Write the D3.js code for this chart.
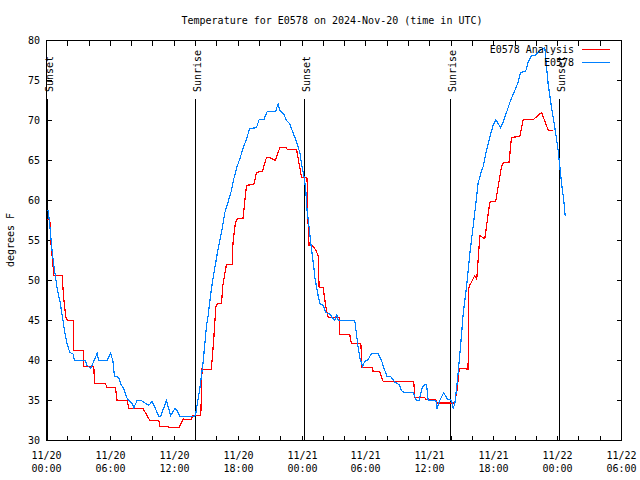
<!DOCTYPE html>
<html><head><meta charset="utf-8">
<script src="https://cdn.jsdelivr.net/npm/d3@7"></script>
<style>body{margin:0;background:#fff}svg{display:block}text{font-family:"DejaVu Sans Mono",monospace;font-size:10px;fill:#000}</style>
</head><body><svg id="c" width="640" height="480"></svg>
<script>
const title = "Temperature for E0578 on 2024-Nov-20 (time in UTC)";
const yLabel = "degrees F";
const seriesNames = ["E0578 Analysis", "E0578"];
const seriesColors = ["#ff0000", "#0080ff"];
const yTicks = [30, 35, 40, 45, 50, 55, 60, 65, 70, 75, 80];
// hours since 2024-11-20 00:00 UTC
const analysisHours = [0.06,0.31,0.38,0.69,1.47,1.62,1.81,2.0,2.50,2.56,3.44,3.50,4.44,4.51,5.54,5.69,6.48,6.63,7.57,7.73,9.07,9.70,10.55,10.64,11.42,11.58,12.45,12.83,13.15,13.62,13.71,14.49,14.61,14.77,15.48,15.71,15.90,16.04,16.43,16.56,16.90,17.43,17.52,17.75,17.99,18.46,18.78,19.47,19.72,20.29,20.66,21.07,21.49,21.91,22.54,22.60,23.48,23.95,24.47,24.51,24.66,25.01,25.29,25.51,25.60,25.98,26.23,26.45,27.48,27.55,28.48,28.64,29.52,29.64,30.62,30.67,31.30,31.61,34.49,34.59,35.53,35.59,36.56,36.63,38.34,38.58,38.72,38.81,39.28,39.59,39.66,39.75,40.22,40.41,40.70,41.16,41.63,42.19,42.73,42.95,43.44,43.67,44.45,44.76,45.70,46.49,47.11,47.52];
const analysisTemps = [57.6,57.6,55.3,50.6,50.6,47.7,45.4,45.0,45.0,41.25,41.25,39.3,39.3,37.1,37.1,36.6,36.6,35.0,35.0,34.0,34.0,32.5,32.5,31.75,31.75,31.6,31.6,32.7,32.6,32.6,33.1,33.1,39.0,38.9,38.9,42.7,46.7,47.1,47.1,49.4,52.0,52.0,54.8,57.3,57.8,57.8,61.9,62.0,63.5,63.7,65.4,65.3,65.0,66.6,66.6,66.4,66.4,62.9,62.8,58.75,54.4,54.3,53.8,53.1,49.2,49.1,46.7,45.4,45.4,43.25,43.25,42.1,42.1,39.1,39.1,38.6,38.6,37.4,37.4,35.4,35.4,35.1,35.1,34.7,34.7,36.5,38.5,39.0,39.0,38.9,49.0,49.4,50.6,50.2,55.6,55.2,59.8,59.9,64.2,64.8,64.8,67.9,68.0,70.1,70.1,71.0,68.8,68.8];
const obsHours = [0.06,0.17,0.31,0.50,0.69,1.03,1.25,1.50,1.72,1.93,2.19,2.50,2.63,3.66,3.81,4.16,4.44,4.75,4.91,5.69,6.01,6.23,6.39,6.79,6.95,7.26,7.51,7.73,8.04,8.20,8.51,8.88,9.61,9.92,10.55,10.71,11.27,11.65,12.05,12.27,12.52,13.67,13.99,14.14,14.40,14.71,14.87,15.03,15.18,15.40,15.65,15.90,16.12,16.43,16.75,17.05,17.37,17.59,17.84,18.15,18.46,18.78,19.09,19.72,19.97,20.41,20.72,21.51,21.75,21.91,22.29,22.54,22.85,23.07,23.32,23.53,23.79,24.00,24.19,24.35,24.47,24.66,24.79,24.98,25.10,25.20,25.36,25.51,25.67,25.98,26.23,26.61,26.92,27.08,27.24,27.39,28.95,29.11,29.26,29.42,29.68,29.89,30.20,30.52,31.14,31.46,31.77,31.99,32.33,32.71,33.11,33.34,33.56,34.43,34.75,34.99,35.31,35.53,35.69,35.84,36.56,36.68,36.94,37.31,37.62,38.04,38.19,38.35,38.51,38.66,38.88,39.13,39.45,39.75,40.06,40.32,40.53,40.76,41.00,41.32,41.63,41.94,42.19,42.64,42.88,43.20,43.58,43.98,44.29,44.52,45.01,45.23,45.55,45.86,46.33,46.80,46.96,47.11,47.33,47.58,47.83,48.05,48.21,48.37,48.58,48.71];
const obsTemps = [58.8,58.7,56.9,54.0,51.9,48.75,47.5,45.4,43.5,42.1,41.0,40.8,40.0,40.0,39.4,39.0,39.9,40.9,40.0,40.0,40.9,40.0,38.0,37.9,37.1,36.5,35.4,35.0,34.6,34.1,35.0,35.0,34.4,34.9,33.0,33.0,35.0,33.1,34.0,33.75,33.0,33.0,33.1,34.4,36.5,39.8,42.1,44.4,45.6,48.1,50.4,52.3,54.0,56.0,58.5,59.8,61.25,62.7,64.0,65.2,66.5,67.7,69.0,69.1,70.1,70.1,71.1,71.1,72.1,71.25,70.8,70.0,69.6,68.75,67.9,67.1,66.0,64.2,63.0,61.25,58.75,56.7,55.0,52.9,51.7,50.4,49.2,48.1,47.1,46.9,46.0,45.8,45.2,45.0,45.8,45.0,45.0,43.3,41.7,40.4,39.25,39.9,40.1,40.9,40.9,40.0,38.75,38.0,38.0,37.3,37.0,36.25,36.0,36.0,35.0,35.0,36.7,37.0,37.0,35.0,35.0,34.0,35.0,36.0,35.2,35.0,34.0,34.6,36.5,38.5,41.7,45.8,49.2,53.3,56.7,59.6,62.1,63.3,64.2,66.25,67.9,69.4,70.1,69.1,69.8,71.0,72.5,73.75,74.8,76.0,76.2,77.3,78.1,78.1,78.75,79.1,76.7,74.6,72.5,70.4,68.3,66.25,64.2,62.1,60.0,58.1];
const sunHours = [0.09, 13.97, 24.19, 37.92, 48.16];
const sunLabels = ["Sunset", "Sunrise", "Sunset", "Sunrise", "Sunset"];

const t0 = Date.UTC(2024, 10, 20, 0, 0);
const toDate = h => new Date(t0 + h * 3600e3);
const svg = d3.select("#c");
const L = 46.5, R = 621.5, T = 40.5, B = 440.5;
const x = d3.scaleUtc().domain([toDate(0), toDate(54)]).range([L, R]);
const y = d3.scaleLinear().domain([30, 80]).range([B, T]);
const px = v => Math.round(v - 0.5) + 0.5;

// y ticks
const yt = svg.append("g");
yTicks.forEach(v => {
  const yy = px(y(v));
  yt.append("line").attr("x1", L).attr("x2", L + 5).attr("y1", yy).attr("y2", yy).attr("stroke", "#000").attr("shape-rendering","crispEdges");
  yt.append("line").attr("x1", R).attr("x2", R - 5).attr("y1", yy).attr("y2", yy).attr("stroke", "#000").attr("shape-rendering","crispEdges");
  yt.append("text").attr("x", 40).attr("y", yy).attr("dy", "0.35em").attr("text-anchor", "end").text(v);
});
// x ticks
const xticks = d3.utcHour.every(2).range(toDate(0), toDate(54.01));
const fmtD = d3.utcFormat("%m/%d"), fmtT = d3.utcFormat("%H:%M");
xticks.forEach(d => {
  const xx = px(x(d));
  svg.append("line").attr("x1", xx).attr("x2", xx).attr("y1", B).attr("y2", B - 5).attr("stroke", "#000").attr("shape-rendering","crispEdges");
  svg.append("line").attr("x1", xx).attr("x2", xx).attr("y1", T).attr("y2", T + 5).attr("stroke", "#000").attr("shape-rendering","crispEdges");
  if (d.getUTCHours() % 6 === 0) {
    const tx = svg.append("text").attr("text-anchor", "middle");
    tx.append("tspan").attr("x", xx).attr("y", 459).text(fmtD(d));
    tx.append("tspan").attr("x", xx).attr("y", 472).text(fmtT(d));
  }
});

// sun lines
sunHours.forEach((h, i) => {
  const xx = px(x(toDate(h)));
  svg.append("line").attr("x1", xx).attr("x2", xx).attr("y1", 99).attr("y2", B).attr("stroke", "#000").attr("shape-rendering","crispEdges");
  svg.append("text").attr("transform", `translate(${xx + 1.5},92) rotate(-90)`).attr("dy", "0.35em").text(sunLabels[i]);
});

// series
const line = d3.line().x(d => x(toDate(d[0]))).y(d => y(d[1]));
const aData = analysisHours.map((h, i) => [h, analysisTemps[i]]);
const oData = obsHours.map((h, i) => [h, obsTemps[i]]);
svg.append("path").attr("d", line(aData)).attr("fill", "none").attr("stroke", seriesColors[0]).attr("stroke-width", 1.2).attr("shape-rendering","crispEdges");
svg.append("path").attr("d", line(oData)).attr("fill", "none").attr("stroke", seriesColors[1]).attr("stroke-width", 1.2).attr("shape-rendering","crispEdges");

// frame
svg.append("rect").attr("x", L).attr("y", T).attr("width", R - L).attr("height", B - T).attr("fill", "none").attr("stroke", "#000").attr("shape-rendering","crispEdges");

// legend
seriesNames.forEach((n, i) => {
  const ly = 49.5 + i * 13;
  svg.append("text").attr("x", 574).attr("y", ly).attr("dy", "0.35em").attr("text-anchor", "end").text(n);
  svg.append("line").attr("x1", 582).attr("x2", 610).attr("y1", ly).attr("y2", ly).attr("stroke", seriesColors[i]).attr("shape-rendering","crispEdges");
});

// title and axis label
svg.append("text").attr("x", 332).attr("y", 20).attr("dy", "0.35em").attr("text-anchor", "middle").text(title);
svg.append("text").attr("transform", "translate(10,240) rotate(-90)").attr("dy", "0.35em").attr("text-anchor", "middle").text(yLabel);
</script></body></html>
